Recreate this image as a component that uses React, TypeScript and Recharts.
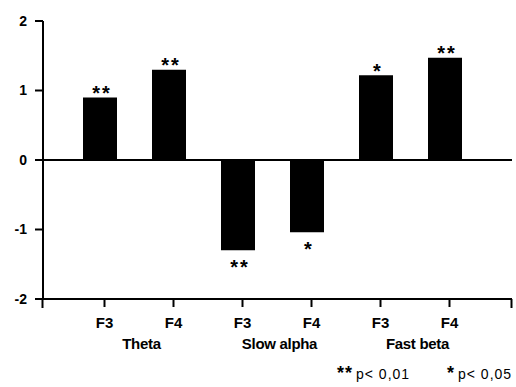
import React from 'react';
import { BarChart, Bar, XAxis, YAxis, ReferenceLine, LabelList } from 'recharts';

const electrodes = ['F3', 'F4', 'F3', 'F4', 'F3', 'F4'];
const bands = ['Theta', 'Slow alpha', 'Fast beta'];
const values = [0.9, 1.3, -1.3, -1.04, 1.22, 1.47];
const significance = ['**', '**', '**', '*', '*', '**'];
const yTicks = [-2, -1, 0, 1, 2];
const legendItems = [
  { stars: '**', text: 'p< 0,01' },
  { stars: '*', text: 'p< 0,05' },
];

const data = electrodes.map((e, i) => ({
  key: String(i),
  electrode: e,
  value: values[i],
  sig: significance[i],
}));

const FONT = '"Liberation Sans", Arial, Helvetica, sans-serif';
const TICK_SHIFT = 5;

const XTick = (props: any) => {
  const { x, y, payload, index } = props;
  const i = Number(payload?.value ?? index);
  const tx = x + TICK_SHIFT;
  const axisY = y - 8;
  return (
    <g>
      <line x1={tx} x2={tx} y1={axisY} y2={axisY + 8} stroke="#000" strokeWidth={2} />
      {i === 0 && <line x1={x - 57} x2={x - 57} y1={axisY} y2={axisY + 9} stroke="#000" strokeWidth={2} />}
      {i === electrodes.length - 1 && (
        <line x1={x + 67} x2={x + 67} y1={axisY} y2={axisY + 9} stroke="#000" strokeWidth={2} />
      )}
      <text x={tx} y={axisY + 29} textAnchor="middle" fontFamily={FONT} fontWeight="bold" fontSize={15} fill="#000">
        {electrodes[i]}
      </text>
      {i % 2 === 0 && (
        <text x={x + 42} y={axisY + 50} textAnchor="middle" fontFamily={FONT} fontWeight="bold" fontSize={15} fill="#000" letterSpacing={-0.3}>
          {bands[i / 2]}
        </text>
      )}
    </g>
  );
};

const StarLabel = (props: any) => {
  const { x, y, width, height, index } = props;
  const v = values[index];
  const top = Math.min(y, y + height);
  const bottom = Math.max(y, y + height);
  const cx = x + width / 2 + 1;
  const baseline = v >= 0 ? top + 2.5 : bottom + 23.5;
  return (
    <text x={cx} y={baseline} textAnchor="middle" fontFamily={FONT} fontWeight="bold" fontSize={20} fill="#000" letterSpacing={2} dx={1}>
      {significance[index]}
    </text>
  );
};

export default function App() {
  return (
    <div style={{ position: 'absolute', left: 0, top: 0, width: 516, height: 387, background: '#fff' }}>
      <BarChart width={516} height={387} data={data} margin={{ top: 21, right: 4, left: 0, bottom: 0 }}>
        <XAxis
          xAxisId="top"
          orientation="top"
          dataKey="key"
          height={0}
          tick={false}
          tickLine={false}
          axisLine={{ stroke: '#000', strokeWidth: 2 }}
        />
        <YAxis
          yAxisId="right"
          orientation="right"
          width={0}
          domain={[-2, 2]}
          tick={false}
          tickLine={false}
          axisLine={{ stroke: '#000', strokeWidth: 2 }}
        />
        <XAxis
          dataKey="key"
          height={88}
          interval={0}
          padding={{ left: 22, right: 33 }}
          tickSize={8}
          tickMargin={0}
          tickLine={false}
          axisLine={{ stroke: '#000', strokeWidth: 2 }}
          tick={<XTick />}
        />
        <YAxis
          width={43}
          domain={[-2, 2]}
          ticks={yTicks}
          interval={0}
          tickSize={8}
          tickMargin={8}
          tickLine={{ stroke: '#000', strokeWidth: 2 }}
          axisLine={{ stroke: '#000', strokeWidth: 2 }}
          tick={{ fill: '#000', fontFamily: FONT, fontWeight: 'bold', fontSize: 14 }}
        />
        <ReferenceLine y={0} stroke="#000" strokeWidth={2} />
        <Bar dataKey="value" fill="#000" barSize={34} isAnimationActive={false}>
          <LabelList dataKey="sig" content={<StarLabel />} />
        </Bar>
      </BarChart>
      <svg width={516} height={387} style={{ position: 'absolute', left: 0, top: 0, pointerEvents: 'none' }}>
        {legendItems.map((item, k) => (
          <text key={k} x={k === 0 ? 337 : 447} y={379} fontFamily={FONT} fontSize={14} fill="#000" letterSpacing={1}>
            <tspan fontSize={18} fontWeight="bold" letterSpacing={1}>{item.stars}</tspan>
            <tspan dx={3}>{item.text}</tspan>
          </text>
        ))}
      </svg>
    </div>
  );
}
